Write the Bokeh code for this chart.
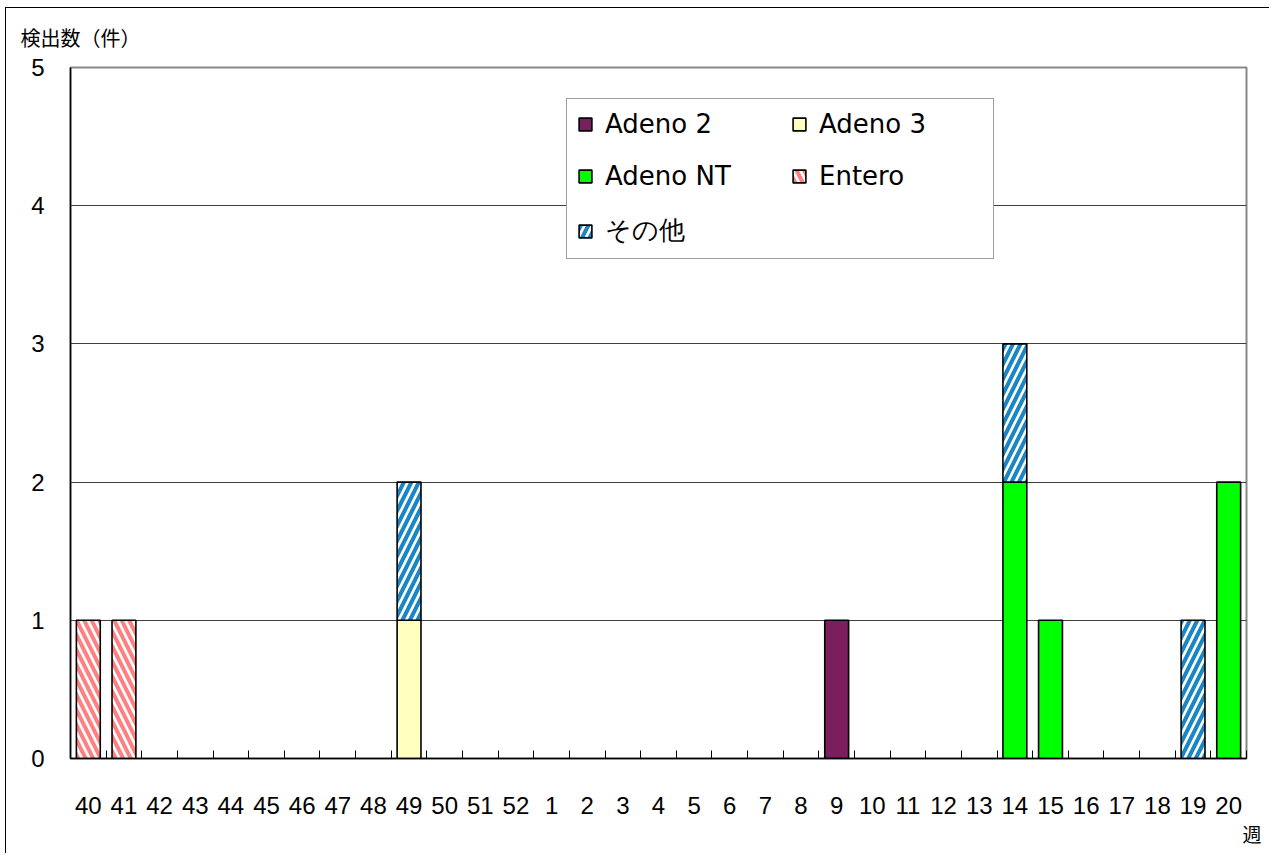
from bokeh.plotting import figure
from bokeh.models import (ColumnDataSource, FixedTicker, Range1d, Legend, LegendItem, Title)
from bokeh.embed import file_html
from bokeh.resources import INLINE

# ---- data ----
weeks = ["40", "41", "42", "43", "44", "45", "46", "47", "48", "49", "50", "51", "52",
         "1", "2", "3", "4", "5", "6", "7", "8", "9", "10", "11", "12", "13", "14",
         "15", "16", "17", "18", "19", "20"]
adeno2 =  [0, 0, 0, 0, 0, 0, 0, 0, 0, 0, 0, 0, 0, 0, 0, 0, 0, 0, 0, 0, 0, 1, 0, 0, 0, 0, 0, 0, 0, 0, 0, 0, 0]
adeno3 =  [0, 0, 0, 0, 0, 0, 0, 0, 0, 1, 0, 0, 0, 0, 0, 0, 0, 0, 0, 0, 0, 0, 0, 0, 0, 0, 0, 0, 0, 0, 0, 0, 0]
adenoNT = [0, 0, 0, 0, 0, 0, 0, 0, 0, 0, 0, 0, 0, 0, 0, 0, 0, 0, 0, 0, 0, 0, 0, 0, 0, 0, 2, 1, 0, 0, 0, 0, 2]
entero =  [1, 1, 0, 0, 0, 0, 0, 0, 0, 0, 0, 0, 0, 0, 0, 0, 0, 0, 0, 0, 0, 0, 0, 0, 0, 0, 0, 0, 0, 0, 0, 0, 0]
other =   [0, 0, 0, 0, 0, 0, 0, 0, 0, 1, 0, 0, 0, 0, 0, 0, 0, 0, 0, 0, 0, 0, 0, 0, 0, 0, 1, 0, 0, 0, 0, 1, 0]
series_names = ["Adeno 2", "Adeno 3", "Adeno NT", "Entero", "その他"]
y_ticks = [0, 1, 2, 3, 4, 5]
y_title = "検出数（件）"
x_title = "週"

n = len(weeks)
centers = [i + 0.5 for i in range(n)]
bounds = [float(i) for i in range(n + 1)]

p = figure(width=1264, height=846, output_backend="svg", toolbar_location=None,
           x_range=Range1d(0, n), y_range=Range1d(0, 5),
           min_border_left=64, min_border_right=24, min_border_top=59, min_border_bottom=96)
p.styles = {"border-left": "1.5px solid black", "border-top": "1.5px solid black",
            "margin-left": "5px", "margin-top": "7px"}

fills = ["#7B1E5E", "#FFFFC0", "#00FF00", "white", "white"]
hatches = [None, None, None, "\\", "/"]
hcolors = ["black", "black", "black", "#FF8080", "#1A86C6"]
all_vals = [adeno2, adeno3, adenoNT, entero, other]

items = []
bottom = [0] * n
for vals, f, h, hc, name in zip(all_vals, fills, hatches, hcolors, series_names):
    top = [b + v for b, v in zip(bottom, vals)]
    kw = dict(fill_color=f, line_color="black", line_width=1.6)
    if h:
        kw.update(hatch_pattern=h, hatch_color=hc, hatch_scale=15, hatch_weight=4)
    src = ColumnDataSource(dict(x=centers, bottom=bottom, top=top,
                                alpha=[1 if v > 0 else 0 for v in vals]))
    r = p.vbar(x="x", bottom="bottom", top="top", width=0.67, source=src,
               fill_alpha="alpha", line_alpha="alpha", hatch_alpha="alpha", **kw)
    first = next(i for i, v in enumerate(vals) if v > 0)
    items.append(LegendItem(label=name, renderers=[r], index=first))
    bottom = top

# axes
p.xaxis.ticker = FixedTicker(ticks=centers, minor_ticks=bounds)
p.xaxis.major_label_overrides = {c: w for c, w in zip(centers, weeks)}
p.xaxis.major_tick_line_color = None
p.xaxis.minor_tick_in = 8
p.xaxis.minor_tick_out = 0
p.xaxis.minor_tick_line_color = "black"
p.xaxis.axis_line_color = "black"
p.xaxis.axis_line_width = 1.5
p.xaxis.major_label_standoff = 32
p.xaxis.major_label_text_font = "Liberation Sans"
p.xaxis.major_label_text_font_size = "24px"
p.xaxis.major_label_text_color = "black"

p.yaxis.ticker = FixedTicker(ticks=y_ticks, minor_ticks=[])
p.yaxis.major_tick_line_color = None
p.yaxis.minor_tick_line_color = None
p.yaxis.axis_line_color = "black"
p.yaxis.axis_line_width = 1.5
p.yaxis.major_label_standoff = 20
p.yaxis.major_label_text_font = "Liberation Sans"
p.yaxis.major_label_text_font_size = "24px"
p.yaxis.major_label_text_color = "black"

p.xgrid.grid_line_color = None
p.ygrid.grid_line_color = "#404040"
p.ygrid.grid_line_width = 1
p.outline_line_color = "#888888"
p.outline_line_width = 2
p.background_fill_color = "white"
p.border_fill_color = "white"

# legend: row-major order as in the reference (Bokeh fills column-major)
order = [0, 2, 4, 1, 3]
legend = Legend(items=[items[i] for i in order],
                location=(496, 499), ncols=2,
                glyph_width=16, glyph_height=16, label_standoff=12,
                label_width=164, label_height=27, spacing=22,
                padding=10, margin=0,
                label_text_font="DejaVu Sans", label_text_font_size="26px",
                label_text_color="black",
                border_line_color="#404040", border_line_width=1.2,
                background_fill_color="white", background_fill_alpha=1)
p.add_layout(legend, "center")

p.add_layout(Title(text=y_title, align="left", offset=-50, standoff=27, vertical_align="top",
                   text_font="Noto Sans CJK JP", text_font_size="20px",
                   text_font_style="normal", text_color="black"), "above")
p.add_layout(Title(text=x_title, align="right", offset=-15, standoff=2,
                   text_font="Noto Sans CJK JP", text_font_size="19px",
                   text_font_style="normal", text_color="black"), "below")

open("out.html", "w").write(file_html(p, INLINE))
